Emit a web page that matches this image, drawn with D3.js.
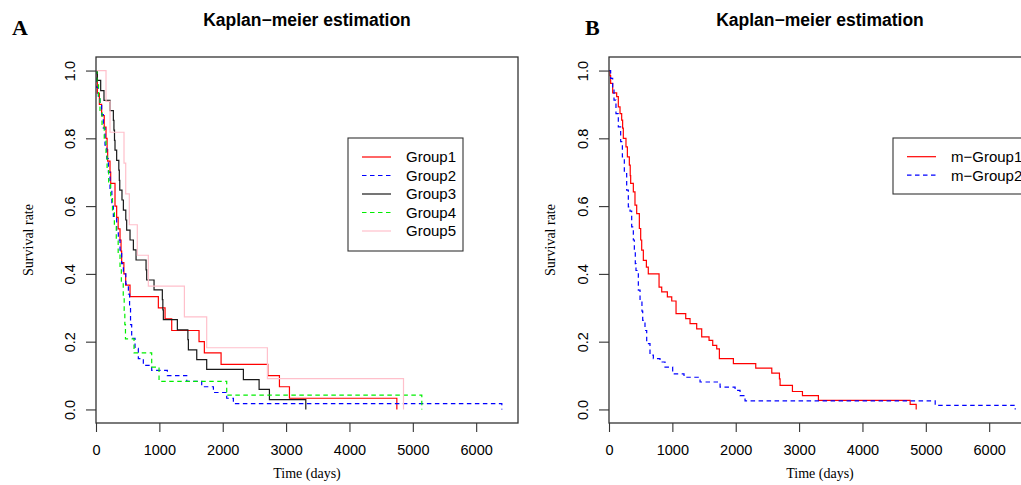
<!DOCTYPE html>
<html>
<head>
<meta charset="utf-8">
<script src="https://cdn.jsdelivr.net/npm/d3@7"></script>
<style>
  body { margin: 0; background: #fff; }
  svg { display: block; }
</style>
</head>
<body>
<div id="chart"></div>
<script>
// Kaplan-Meier step curves: [time in days, survival after the step]
const group1 = [[0,1],[21,0.933],[53,0.9],[89,0.867],[130,0.833],[158,0.8],[175,0.767],[184,0.733],[221,0.7],[232,0.667],[300,0.6],[326,0.567],[350,0.533],[379,0.5],[395,0.467],[405,0.433],[440,0.4],[468,0.367],[537,0.333],[984,0.3],[1090,0.267],[1195,0.233],[1626,0.2],[1710,0.167],[1974,0.133],[2711,0.1],[2895,0.067],[3053,0.033],[4748,0]]
const group2 = [[0,1],[11,0.95],[37,0.92],[63,0.9],[89,0.87],[116,0.83],[142,0.78],[170,0.74],[195,0.7],[221,0.65],[250,0.6],[274,0.57],[326,0.53],[352,0.5],[379,0.47],[405,0.43],[432,0.4],[470,0.37],[511,0.34],[530,0.3],[545,0.25],[563,0.21],[616,0.18],[668,0.15],[747,0.13],[879,0.115],[1126,0.1],[1432,0.083],[1668,0.067],[1853,0.05],[2063,0.033],[2168,0.017],[6405,0]]
const group3 = [[0,1],[21,0.971],[74,0.941],[126,0.912],[221,0.882],[274,0.853],[283,0.824],[292,0.794],[300,0.765],[326,0.735],[360,0.706],[368,0.676],[375,0.647],[410,0.618],[432,0.588],[470,0.559],[484,0.529],[537,0.5],[590,0.471],[632,0.441],[790,0.412],[800,0.382],[916,0.353],[1047,0.324],[1055,0.294],[1063,0.265],[1284,0.235],[1450,0.206],[1458,0.176],[1590,0.147],[1747,0.118],[2326,0.088],[2574,0.059],[2737,0.029],[3311,0]]
const group4 = [[0,1],[15,0.958],[40,0.917],[63,0.875],[95,0.833],[130,0.792],[158,0.75],[175,0.708],[200,0.667],[232,0.625],[260,0.583],[290,0.542],[320,0.5],[350,0.458],[379,0.417],[400,0.375],[430,0.333],[445,0.292],[455,0.25],[465,0.208],[600,0.167],[879,0.125],[995,0.083],[2063,0.042],[5142,0]]
const group5 = [[0,1],[158,0.909],[221,0.818],[442,0.727],[469,0.636],[526,0.545],[652,0.455],[826,0.364],[1395,0.273],[1747,0.182],[2705,0.091],[4853,0]]

const m_group1 = [[0,1],[15,0.985],[26,0.962],[58,0.934],[121,0.923],[147,0.893],[174,0.873],[200,0.854],[215,0.83],[226,0.8],[268,0.775],[290,0.745],[321,0.721],[335,0.69],[342,0.667],[384,0.642],[410,0.603],[437,0.578],[479,0.534],[500,0.5],[516,0.47],[542,0.44],[590,0.42],[620,0.4],[790,0.361],[832,0.347],[921,0.332],[990,0.32],[1058,0.283],[1211,0.268],[1279,0.253],[1384,0.238],[1463,0.214],[1579,0.204],[1637,0.189],[1700,0.179],[1742,0.15],[1963,0.135],[2316,0.122],[2569,0.107],[2690,0.09],[2700,0.071],[2895,0.053],[3053,0.041],[3305,0.027],[4753,0.015],[4848,0]]
const m_group2 = [[0,1],[26,0.977],[58,0.952],[79,0.913],[110,0.873],[147,0.834],[184,0.79],[211,0.745],[242,0.696],[279,0.647],[305,0.598],[332,0.585],[358,0.539],[384,0.5],[400,0.47],[415,0.43],[426,0.41],[463,0.352],[490,0.322],[520,0.29],[532,0.263],[568,0.233],[595,0.194],[647,0.16],[700,0.15],[805,0.14],[884,0.125],[1005,0.105],[1184,0.095],[1437,0.081],[1753,0.066],[1990,0.056],[2068,0.041],[2147,0.025],[5148,0.012],[6411,0]]

const panel_a_names = ['Group1', 'Group2', 'Group3', 'Group4', 'Group5']
const panel_b_names = ['m\u2212Group1', 'm\u2212Group2']
const x_ticks = [0, 1000, 2000, 3000, 4000, 5000, 6000]
const y_ticks = [0, 0.2, 0.4, 0.6, 0.8, 1.0]
const title_text = 'Kaplan\u2212meier estimation'

const svg_width = 1021,
      svg_height = 485,
      box_width = 422,
      box_top = 57,
      box_bottom = 423,
      sans = "'Liberation Sans', Arial, sans-serif",
      serif = "'Liberation Serif', 'Times New Roman', serif",
      axis_color = '#333'

const line_styles = {
  red:   { color: '#ff0000', dash: null },
  blue:  { color: '#0000ff', dash: '4.5,3.5' },
  black: { color: '#1a1a1a', dash: null },
  green: { color: '#00ee00', dash: '4.5,3.5' },
  pink:  { color: '#ffc0cb', dash: null }
}

function draw_panel(svg, opts) {
  const left = opts.left
  const g = svg.append('g')

  const x = d3.scaleLinear().domain([0, 6660]).range([left, left + box_width])
  const y = d3.scaleLinear().domain([-0.04, 1.04]).range([box_bottom, box_top])

  // curves
  const line = d3.line()
    .x(d => x(d[0]))
    .y(d => y(d[1]))
    .curve(d3.curveStepAfter)

  opts.series.forEach(s => {
    const st = line_styles[s.style]
    g.append('path')
      .attr('d', line(s.data))
      .attr('fill', 'none')
      .attr('stroke', st.color)
      .attr('stroke-width', 1.2)
      .attr('stroke-dasharray', st.dash)
  })

  // axes
  const x_axis = g.append('g')
    .attr('transform', `translate(0,${box_bottom})`)
    .call(d3.axisBottom(x).tickValues(x_ticks).tickSize(9).tickPadding(13).tickFormat(d3.format('d')))
  const y_axis = g.append('g')
    .attr('transform', `translate(${left},0)`)
    .call(d3.axisLeft(y).tickValues(y_ticks).tickSize(10).tickFormat(d3.format('.1f')))

  ;[x_axis, y_axis].forEach(a => {
    a.select('.domain').remove()
    a.selectAll('line').attr('stroke', axis_color).attr('stroke-width', 1.1)
    a.selectAll('text').attr('fill', '#000').style('font-family', sans).style('font-size', '14.5px')
  })
  y_axis.selectAll('text')
    .attr('transform', 'rotate(-90)')
    .attr('x', 0)
    .attr('y', -21)
    .attr('dy', 0)
    .attr('text-anchor', 'middle')

  // plot box
  g.append('rect')
    .attr('x', left)
    .attr('y', box_top)
    .attr('width', box_width)
    .attr('height', box_bottom - box_top)
    .attr('fill', 'none')
    .attr('stroke', axis_color)
    .attr('stroke-width', 1.3)

  // title, letter and axis titles
  g.append('text')
    .attr('x', left + box_width / 2)
    .attr('y', 26)
    .attr('text-anchor', 'middle')
    .style('font-family', sans)
    .style('font-weight', 'bold')
    .style('font-size', '17.5px')
    .text(title_text)

  g.append('text')
    .attr('x', opts.letter_x)
    .attr('y', 35)
    .style('font-family', serif)
    .style('font-weight', 'bold')
    .style('font-size', '22px')
    .text(opts.letter)

  g.append('text')
    .attr('x', left + box_width / 2)
    .attr('y', 478)
    .attr('text-anchor', 'middle')
    .style('font-family', serif)
    .style('font-size', '14px')
    .text('Time (days)')

  g.append('text')
    .attr('transform', `translate(${opts.ylab_x},${(box_top + box_bottom) / 2}) rotate(-90)`)
    .attr('text-anchor', 'middle')
    .style('font-family', serif)
    .style('font-size', '14px')
    .text('Survival rate')

  // legend
  const lg = opts.legend
  const legend = g.append('g')
  legend.append('rect')
    .attr('x', lg.x)
    .attr('y', lg.y)
    .attr('width', lg.width)
    .attr('height', lg.height)
    .attr('fill', '#fff')
    .attr('stroke', axis_color)
    .attr('stroke-width', 1.1)

  opts.series.forEach((s, i) => {
    const st = line_styles[s.style]
    const ry = lg.first_row + i * 18.5
    legend.append('line')
      .attr('x1', lg.x + 14)
      .attr('x2', lg.x + 43)
      .attr('y1', ry)
      .attr('y2', ry)
      .attr('stroke', st.color)
      .attr('stroke-width', 1.2)
      .attr('stroke-dasharray', st.dash)
    legend.append('text')
      .attr('x', lg.x + 58)
      .attr('y', ry)
      .attr('dy', '0.36em')
      .style('font-family', sans)
      .style('font-size', '15px')
      .text(s.name)
  })
}

function main() {
  const svg = d3.select('#chart')
    .append('svg')
    .attr('width', svg_width)
    .attr('height', svg_height)
    .style('background', '#fff')

  draw_panel(svg, {
    left: 96,
    letter: 'A',
    letter_x: 12,
    ylab_x: 33,
    series: [
      { name: panel_a_names[0], data: group1, style: 'red' },
      { name: panel_a_names[1], data: group2, style: 'blue' },
      { name: panel_a_names[2], data: group3, style: 'black' },
      { name: panel_a_names[3], data: group4, style: 'green' },
      { name: panel_a_names[4], data: group5, style: 'pink' }
    ],
    legend: { x: 348, y: 138, width: 115, height: 113, first_row: 157 }
  })

  draw_panel(svg, {
    left: 609,
    letter: 'B',
    letter_x: 585,
    ylab_x: 555,
    series: [
      { name: panel_b_names[0], data: m_group1, style: 'red' },
      { name: panel_b_names[1], data: m_group2, style: 'blue' }
    ],
    legend: { x: 893, y: 138, width: 150, height: 56, first_row: 156.7 }
  })
}

main()
</script>
</body>
</html>
